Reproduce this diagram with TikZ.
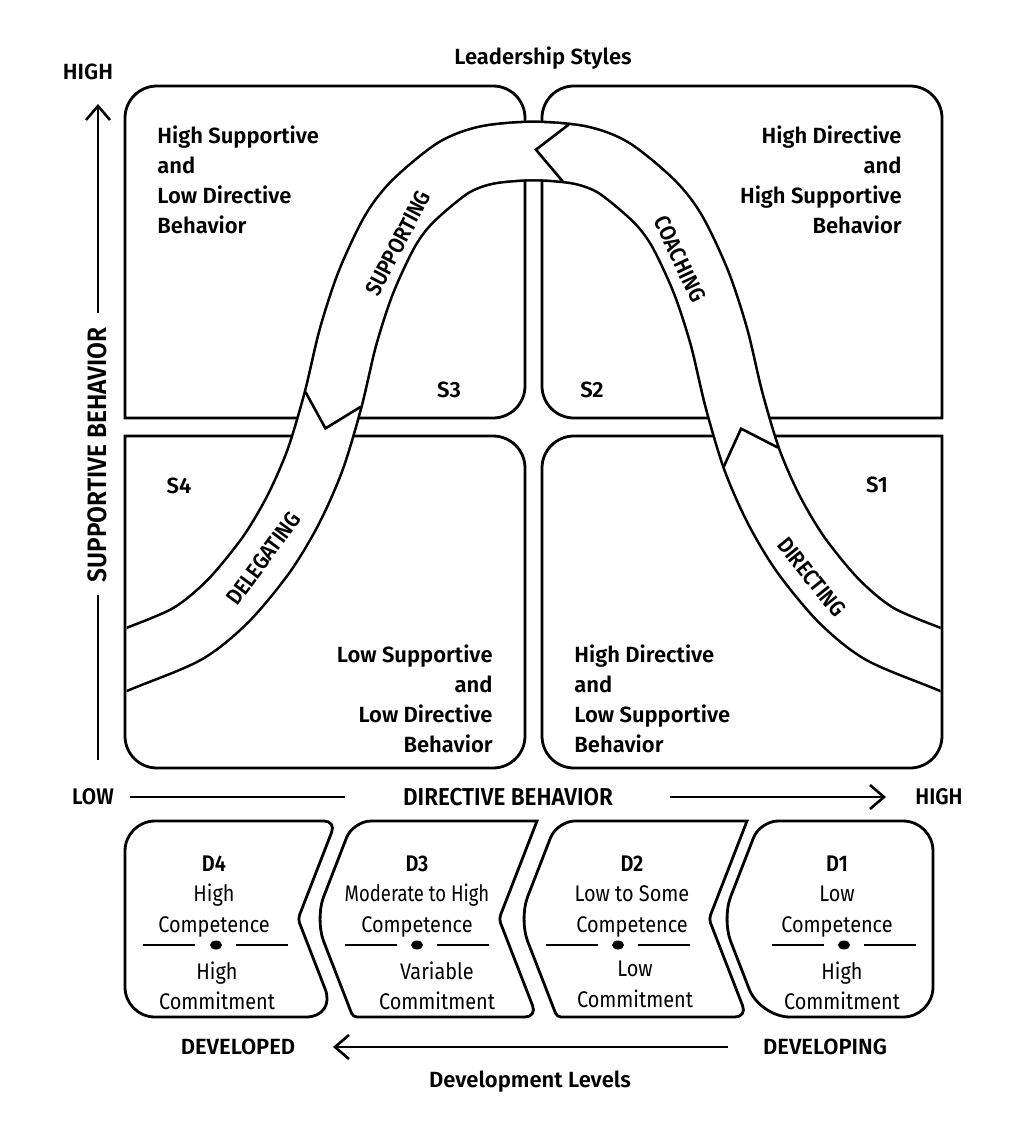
\documentclass[tikz,border=0pt]{standalone}
\usepackage{graphicx}
\usepackage{fontspec}
\setmainfont{Fira Sans}[BoldFont={Fira Sans SemiBold}]
\newfontfamily\condfont{Fira Sans}[FakeStretch=0.88,BoldFont={Fira Sans SemiBold}]
\newfontfamily\axisfont{Fira Sans SemiBold}[FakeStretch=0.92]
\usetikzlibrary{arrows.meta,decorations.markings}

% centre line of the ribbon S4 - S3 - S2 - S1
\def\ribbon{plot[smooth] coordinates {(85,676) (125,660) (187,634) (228,601) (266,555) (293,510) (315,460) (333,400) (348,337) (366,282) (390,231) (413,201) (453,168) (487,155) (533.5,151) (580,155) (614,168) (654,201) (677,231) (701,282) (719,337) (734,400) (752,460) (774,510) (801,555) (839,601) (880,634) (942,660) (982,676)}}

\begin{document}
\begin{tikzpicture}[x=0.5pt,y=-0.5pt,
    quadbox/.style={line width=1.4pt},
    levelbox/.style={line width=1.4pt},
    band/.style={line width=1.3pt, double=white, double distance=28pt},
    chevron/.style={line width=1.3pt},
    bandtext/.style={transform shape, inner sep=0pt, font=\condfont\fontsize{11.2}{13}\selectfont\bfseries},
    quadtext/.style={inner sep=0pt, font=\fontsize{11}{15.15}\selectfont\bfseries},
    stylelabel/.style={inner sep=0pt, font=\fontsize{11}{13}\selectfont\bfseries},
    axistext/.style={inner sep=0pt, font=\axisfont\fontsize{11.3}{13}\selectfont},
    headtext/.style={inner sep=0pt, font=\fontsize{11}{13}\selectfont\bfseries},
    leveltext/.style={inner sep=0pt, align=center, anchor=north, font=\condfont\fontsize{11.3}{15.4}\selectfont},
    sepline/.style={line width=1.3pt},
    axisline/.style={line width=1.3pt},
    axisarrow/.style={axisline, -{Straight Barb[length=7pt,width=12pt]}}]
    \useasboundingbox (0,0) rectangle (1030,1130);

    % four quadrants
    \draw[quadbox] (125,250) [rounded corners=16pt] -- (125,86) -- (525,86) -- (525,418) [sharp corners] -- (125,418) [rounded corners=16pt] -- cycle;
    \draw[quadbox] (942,250) [rounded corners=16pt] -- (942,86) -- (542,86) -- (542,418) [sharp corners] -- (942,418) [rounded corners=16pt] -- cycle;
    \draw[quadbox] (125,600) [rounded corners=16pt] -- (125,768) -- (525,768) -- (525,436) [sharp corners] -- (125,436) [rounded corners=16pt] -- cycle;
    \draw[quadbox] (942,600) [rounded corners=16pt] -- (942,768) -- (542,768) -- (542,436) [sharp corners] -- (942,436) [rounded corners=16pt] -- cycle;

    % the ribbon
    \begin{scope}
        \clip (126.5,0) rectangle (940.5,1130);
        \draw[band] \ribbon;
        \path[decorate, decoration={markings,
            mark=at position 0.1467 with {\node[bandtext] (delegating) at (0,0) {DELEGATING};},
            mark=at position 0.264 with {\draw[chevron] (0,28.6) -- (-30,0) -- (0,-28.6);},
            mark=at position 0.379 with {\node[bandtext] (supporting) at (0,13) {SUPPORTING};},
            mark=at position 0.5217 with {\draw[chevron] (0,28.6) -- (-30,0) -- (0,-28.6);},
            mark=at position 0.634 with {\node[bandtext] (coaching) at (0,10) {COACHING};},
            mark=at position 0.7763 with {\draw[chevron] (0,28.6) -- (-30,0) -- (0,-28.6);},
            mark=at position 0.8666 with {\node[bandtext] (directing) at (0,5) {DIRECTING};}}] \ribbon;
    \end{scope}

    \node[headtext] (styles) at (543,58) {Leadership Styles};

    \node[quadtext, anchor=north west, align=left] (q3text) at (157,125) {High Supportive\\and\\Low Directive\\Behavior};
    \node[quadtext, anchor=north east, align=right] (q2text) at (902,125) {High Directive\\and\\High Supportive\\Behavior};
    \node[quadtext, anchor=north east, align=right] (q4text) at (493,644) {Low Supportive\\and\\Low Directive\\Behavior};
    \node[quadtext, anchor=north west, align=left] (q1text) at (574,644) {High Directive\\and\\Low Supportive\\Behavior};

    \node[stylelabel] (s3) at (449,390) {S3};
    \node[stylelabel] (s2) at (592,390) {S2};
    \node[stylelabel] (s4) at (179,486) {S4};
    \node[stylelabel] (s1) at (877,485) {S1};

    % supportive axis
    \node[headtext] (supphigh) at (88,72) {HIGH};
    \node[axistext, rotate=90, font=\axisfont\fontsize{13.3}{15}\selectfont] (suppaxis) at (97,455) {SUPPORTIVE BEHAVIOR};
    \coordinate (supptip) at (98,104);
    \coordinate (suppup) at (98,313);
    \coordinate (suppdown) at (98,595);
    \coordinate (supplow) at (98,760);
    \draw[axisarrow] (suppup) -- (supptip);
    \draw[axisline] (suppdown) -- (supplow);

    % directive axis
    \node[axistext] (lowx) at (93,797) {LOW};
    \node[axistext, font=\axisfont\fontsize{12.2}{14}\selectfont] (dirlabel) at (508,797) {DIRECTIVE BEHAVIOR};
    \node[axistext] (highx) at (939,797) {HIGH};
    \coordinate (dirA) at (130,797);
    \coordinate (dirB) at (345,797);
    \coordinate (dirC) at (670,797);
    \coordinate (dirD) at (886,797);
    \draw[axisline] (dirA) -- (dirB);
    \draw[axisarrow] (dirC) -- (dirD);

    % development levels
    \draw[levelbox] (230,821) [rounded corners=15pt] -- (125,821) -- (125,1017) -- (336,1017) [rounded corners=2pt] -- (298,919) [rounded corners=6pt] -- (336,821) [rounded corners=2pt] -- cycle;
    \draw[levelbox] (445,821) -- (537,821) [rounded corners=2pt] -- (499,919) [rounded corners=6pt] -- (537,1017) [rounded corners=2pt] -- (353,1017) [rounded corners=12pt] -- (315,919) [rounded corners=9pt] -- (353,821) [rounded corners=12pt] -- cycle;
    \draw[levelbox] (650,821) -- (747,821) [rounded corners=2pt] -- (709,919) [rounded corners=6pt] -- (747,1017) [rounded corners=2pt] -- (557,1017) [rounded corners=12pt] -- (519,919) [rounded corners=9pt] -- (557,821) [rounded corners=12pt] -- cycle;
    \draw[levelbox] (850,821) [rounded corners=15pt] -- (933,821) -- (933,1017) -- (760,1017) [rounded corners=12pt] -- (722,919) [rounded corners=9pt] -- (760,821) [rounded corners=12pt] -- cycle;

    \node[leveltext] (d4top) at (214,855) {\textbf{D4}\\High\\Competence};
    \node[leveltext] (d4bot) at (217,961) {High\\Commitment};
    \node[leveltext] (d3top) at (417,855) {\textbf{D3}\\\scalebox{0.93}[1]{Moderate to High}\\Competence};
    \node[leveltext] (d3bot) at (437,961) {Variable\\Commitment};
    \node[leveltext] (d2top) at (632,855) {\textbf{D2}\\Low to Some\\Competence};
    \node[leveltext] (d2bot) at (635,961) {Low\\Commitment};
    \node[leveltext] (d1top) at (837,855) {\textbf{D1}\\Low\\Competence};
    \node[leveltext] (d1bot) at (842,961) {High\\Commitment};

    \draw[sepline] (143,945) -- (195,945);
    \draw[sepline] (236,945) -- (288,945);
    \fill (216,945) ellipse [x radius=6, y radius=4.5];
    \draw[sepline] (345,945) -- (397,945);
    \draw[sepline] (437,945) -- (489,945);
    \fill (417,945) ellipse [x radius=6, y radius=4.5];
    \draw[sepline] (546,945) -- (598,945);
    \draw[sepline] (638,945) -- (690,945);
    \fill (618,945) ellipse [x radius=6, y radius=4.5];
    \draw[sepline] (772,945) -- (824,945);
    \draw[sepline] (864,945) -- (916,945);
    \fill (844,945) ellipse [x radius=6, y radius=4.5];

    \node[headtext] (developed) at (238,1047) {DEVELOPED};
    \node[headtext] (developing) at (825,1047) {DEVELOPING};
    \coordinate (devfrom) at (728,1047);
    \coordinate (devto) at (333,1047);
    \draw[axisarrow] (devfrom) -- (devto);
    \node[headtext] (levels) at (530,1082) {Development Levels};
\end{tikzpicture}
\end{document}
